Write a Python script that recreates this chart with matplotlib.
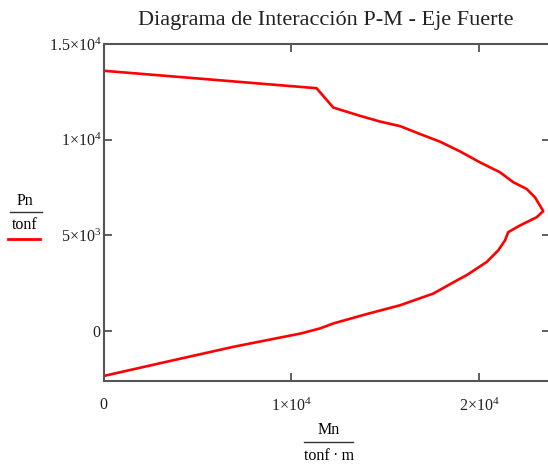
import matplotlib.pyplot as plt
from matplotlib.lines import Line2D

plt.rcParams['font.family'] = ['Liberation Serif', 'DejaVu Serif']
plt.rcParams['mathtext.fontset'] = 'custom'
plt.rcParams['mathtext.rm'] = 'Liberation Serif'
plt.rcParams['mathtext.it'] = 'Liberation Serif:italic'

# interaction curve, strong axis (tonf·m, tonf)
Mn = [0, 11340, 12230, 13650, 14720, 15790, 16850, 17920, 18990, 20050,
      21120, 21830, 22540, 22990, 23430, 23080, 22190, 21560, 21390, 21030,
      20410, 19340, 18990, 17560, 15790, 14010, 12230, 11520, 10510, 6900,
      3340, 0]
Pn = [13600, 12690, 11680, 11250, 10950, 10710, 10300, 9900, 9390, 8820,
      8300, 7780, 7430, 6990, 6270, 5950, 5520, 5170, 4740, 4220,
      3610, 2920, 2740, 1960, 1350, 890, 400, 140, -120, -820,
      -1600, -2340]

xticks = [0, 10000, 20000]
xlabels = ['$0$', r'$1{\times}10^{4}$', r'$2{\times}10^{4}$']
yticks = [0, 5000, 10000, 15000]
ylabels = ['$0$', r'$5{\times}10^{3}$', r'$1{\times}10^{4}$', r'$1.5{\times}10^{4}$']

W, H = 548, 467
fig = plt.figure(figsize=(W / 100, H / 100), dpi=100)
ax = fig.add_axes([104 / W, 1 - 380.7 / H, 446 / W, (380.7 - 44) / H])

ax.plot(Mn, Pn, color='red', lw=1.9, solid_joinstyle='round')
ax.set_xlim(0, 23790)
ax.set_ylim(-2590, 15000)

ax.set_xticks(xticks)
ax.set_xticklabels(xlabels, fontsize=11.5)
ax.set_yticks(yticks)
ax.set_yticklabels(ylabels, fontsize=11.5)
ax.tick_params(direction='in', length=5.5, width=1.2, color='#444444',
               top=True, right=True, labelcolor='#222222')
ax.tick_params(axis='y', pad=2)
ax.tick_params(axis='x', pad=12)
for s in ax.spines.values():
    s.set_color('#555555')
    s.set_linewidth(1.5)

fig.text(326 / W, 1 - 21 / H, 'Diagrama de Interacción P-M - Eje Fuerte',
         ha='center', va='center', fontsize=16, color='#222222')

# y axis label as a fraction with the trace legend underneath
fig.text(25 / W, 1 - 201 / H, 'Pn', ha='center', va='center', fontsize=11.5)
fig.add_artist(Line2D([10 / W, 42 / W], [1 - 212 / H, 1 - 212 / H], color='#333333', lw=1))
fig.text(25 / W, 1 - 225 / H, 'tonf', ha='center', va='center', fontsize=11.5)
fig.add_artist(Line2D([8 / W, 40 / W], [1 - 239 / H, 1 - 239 / H], color='red', lw=2))

# x axis label as a fraction
fig.text(329 / W, 1 - 430 / H, 'Mn', ha='center', va='center', fontsize=11.5)
fig.add_artist(Line2D([304 / W, 353 / W], [1 - 442 / H, 1 - 442 / H], color='#333333', lw=1))
fig.text(329 / W, 1 - 456 / H, 'tonf\u2009·\u2009m', ha='center', va='center', fontsize=11.5)

fig.savefig('out.png', dpi=100)
